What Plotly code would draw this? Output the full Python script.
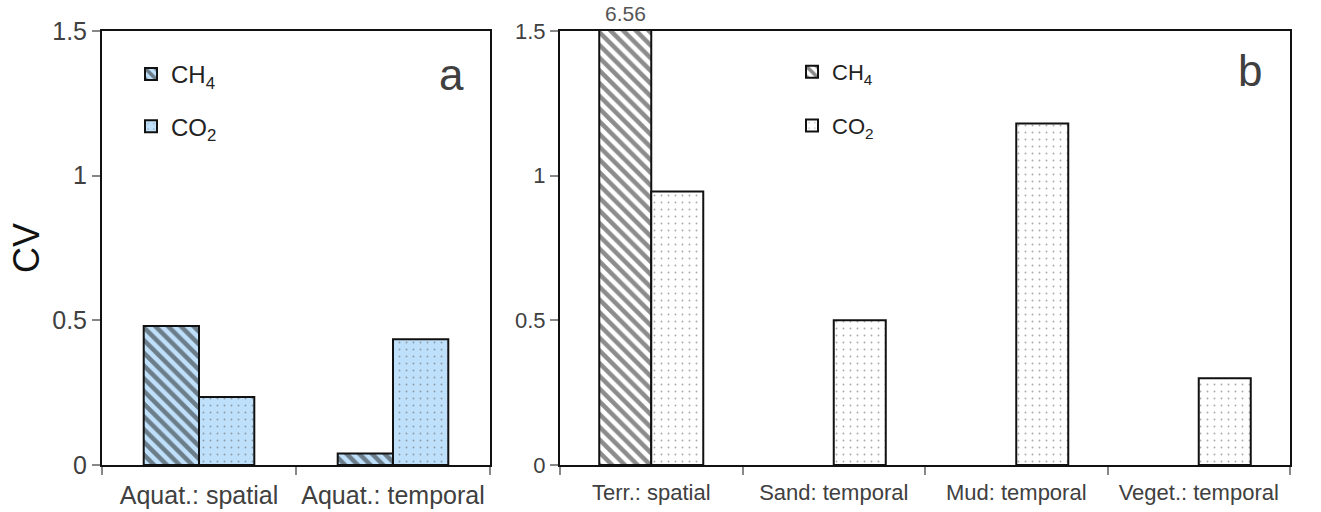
import plotly.graph_objects as go

# ---- data ----
cats_a = ["Aquat.: spatial", "Aquat.: temporal"]
ch4_a = [0.48, 0.04]
co2_a = [0.235, 0.435]

cats_b = ["Terr.: spatial", "Sand: temporal", "Mud: temporal", "Veget.: temporal"]
ch4_b = [6.56, None, None, None]
co2_b = [0.945, 0.50, 1.18, 0.30]

y_ticks = [0, 0.5, 1, 1.5]
y_ticktext = ["0", "0.5", "1", "1.5"]

W, H = 1321, 512
FONT = "Liberation Sans, Arial, sans-serif"
TXT = "#404040"
BLUE = "#bfe0fb"

def px_x(p):
    return p / W

def px_y(p):
    return 1 - p / H

stripe = lambda bg: dict(shape="\\", fgcolor="#1a1a1a", bgcolor=bg, size=9, solidity=0.5)
dots = lambda bg: dict(shape=".", fgcolor="#555555", bgcolor=bg, size=7, solidity=0.06)
outline = dict(color="#111111", width=2)

fig = go.Figure()

fig.add_trace(go.Bar(x=cats_a, y=ch4_a, name="CH<sub>4</sub>", xaxis="x", yaxis="y",
                     marker=dict(color=BLUE, line=outline, pattern=stripe(BLUE)),
                     legend="legend", legendgroup="a1"))
fig.add_trace(go.Bar(x=cats_a, y=co2_a, name="CO<sub>2</sub>", xaxis="x", yaxis="y",
                     marker=dict(color=BLUE, line=outline, pattern=dots(BLUE)),
                     legend="legend", legendgroup="a2"))
fig.add_trace(go.Bar(x=cats_b, y=ch4_b, name="CH<sub>4</sub>", xaxis="x2", yaxis="y2",
                     marker=dict(color="white", line=outline, pattern=stripe("white")),
                     legend="legend2", legendgroup="b1"))
fig.add_trace(go.Bar(x=cats_b, y=co2_b, name="CO<sub>2</sub>", xaxis="x2", yaxis="y2",
                     marker=dict(color="white", line=outline, pattern=dots("white")),
                     legend="legend2", legendgroup="b2"))

ydom = [px_y(465), px_y(31)]

common_x = dict(type="category", showline=True, mirror=True, linecolor="#111111", linewidth=2,
                ticks="outside", tickson="boundaries", ticklen=8, tickcolor="#888888", tickwidth=2,
                showgrid=False, zeroline=False, ticklabelstandoff=7)
common_y = dict(range=[0, 1.5], tickvals=y_ticks, ticktext=y_ticktext, showline=True, mirror=True,
                linecolor="#111111", linewidth=2, ticks="outside", ticklen=8, tickcolor="#888888",
                tickwidth=2, showgrid=False, zeroline=False)

fig.update_layout(
    width=W, height=H,
    margin=dict(l=0, r=0, t=0, b=0, autoexpand=False),
    paper_bgcolor="white", plot_bgcolor="white",
    font=dict(family=FONT, color=TXT, size=22),
    barmode="group", bargap=0.43, bargroupgap=0,
    xaxis=dict(domain=[px_x(102), px_x(490)], anchor="y",
               tickfont=dict(size=25, color=TXT), **common_x),
    yaxis=dict(domain=ydom, anchor="x", tickfont=dict(size=25, color=TXT),
               title=dict(text="CV", font=dict(size=36, color="#111111"), standoff=2), **common_y),
    xaxis2=dict(domain=[px_x(560), px_x(1290)], anchor="y2",
                tickfont=dict(size=22, color=TXT), **common_x),
    yaxis2=dict(domain=ydom, anchor="x2", tickfont=dict(size=22, color=TXT), **common_y),
    legend=dict(x=px_x(131), y=px_y(52), xanchor="left", yanchor="top",
                bgcolor="rgba(0,0,0,0)", font=dict(size=24, color="#222222"),
                traceorder="grouped", tracegroupgap=18),
    legend2=dict(x=px_x(792), y=px_y(51), xanchor="left", yanchor="top",
                 bgcolor="rgba(0,0,0,0)", font=dict(size=22, color="#222222"),
                 traceorder="grouped", tracegroupgap=22),
    annotations=[
        dict(text="a", x=px_x(452), y=px_y(74), xref="paper", yref="paper", showarrow=False,
             font=dict(size=44, color=TXT), xanchor="center", yanchor="middle"),
        dict(text="b", x=px_x(1250), y=px_y(70), xref="paper", yref="paper", showarrow=False,
             font=dict(size=44, color=TXT), xanchor="center", yanchor="middle"),
        dict(text=f"{ch4_b[0]:.2f}", x=cats_b[0], y=1.5, xref="x2", yref="y2", xshift=-26,
             showarrow=False, yanchor="bottom", yshift=4, font=dict(size=21, color="#555555")),
    ],
)

fig.write_html("out.html")
